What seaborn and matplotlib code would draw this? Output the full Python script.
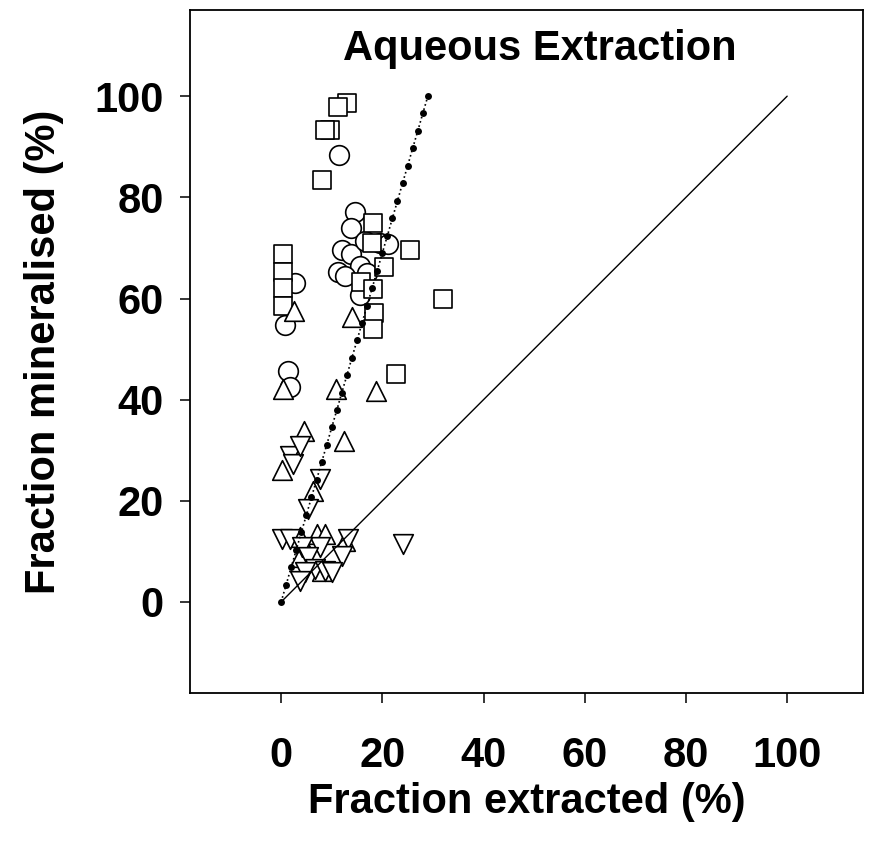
import matplotlib
matplotlib.use("Agg")
import matplotlib.pyplot as plt
import seaborn as sns
import pandas as pd

# Measured points, one group per symbol
sq_x = [13.1, 11.2, 9.7, 8.7, 8.1, 0.4, 0.4, 0.4, 0.4, 18.2, 18.0, 20.4, 25.5, 15.8, 18.2, 18.4, 18.2, 32.0, 22.8]
sq_y = [98.6, 97.8, 93.3, 93.3, 83.4, 68.7, 65.3, 62.0, 58.6, 75.0, 70.9, 66.3, 69.5, 63.2, 61.8, 57.2, 54.0, 60.0, 45.0]

ci_x = [11.5, 14.7, 13.9, 12.1, 13.9, 16.6, 19.6, 21.2, 15.6, 17.0, 11.3, 12.7, 15.6, 2.8, 0.8, 1.4, 1.8]
ci_y = [88.3, 77.2, 73.9, 69.5, 68.7, 71.3, 70.9, 70.7, 66.5, 65.1, 65.3, 64.4, 60.6, 63.0, 54.7, 45.7, 42.6]

tu_x = [0.4, 10.9, 18.8, 4.6, 12.5, 2.6, 14.1, 0.2, 6.3, 3.8, 7.1, 8.7, 12.7, 3.8, 8.1]
tu_y = [42.2, 42.2, 41.8, 33.9, 31.9, 57.6, 56.4, 26.0, 22.0, 12.9, 13.5, 13.5, 12.1, 8.9, 6.1]

td_x = [1.8, 2.4, 3.8, 7.7, 5.3, 0.2, 1.8, 13.3, 7.7, 4.2, 5.3, 12.1, 6.7, 4.8, 3.8, 8.7, 10.1, 24.0]
td_y = [28.9, 27.3, 30.9, 24.4, 18.4, 12.5, 12.5, 12.5, 10.9, 10.9, 8.9, 9.1, 6.5, 5.9, 4.2, 6.1, 5.9, 11.5]

# Fitted relation (dotted, with dots) and the 1:1 line
fit_x = [0, 1, 2, 3, 4, 5, 6, 7, 8, 9, 10, 11, 12, 13, 14, 15, 16, 17, 18, 19,
         20, 21, 22, 23, 24, 25, 26, 27, 28, 29]
fit_y = [0.0, 3.4, 6.9, 10.3, 13.8, 17.2, 20.7, 24.1, 27.6, 31.0, 34.5, 37.9, 41.4, 44.8,
         48.3, 51.7, 55.2, 58.6, 62.1, 65.5, 69.0, 72.4, 75.9, 79.3, 82.8, 86.2, 89.7,
         93.1, 96.6, 100.0]
one_x = [0, 100]
one_y = [0, 100]

ticks = [0, 20, 40, 60, 80, 100]

sns.set_style("ticks")
plt.rcParams['font.family'] = ['Liberation Sans', 'DejaVu Sans']
plt.rcParams['font.weight'] = 'bold'
plt.rcParams.update({
    "text.color": "black",
    "axes.labelcolor": "black",
    "axes.edgecolor": "black",
    "xtick.color": "black",
    "ytick.color": "black",
})

fig = plt.figure(figsize=(8.78, 8.49), dpi=100)
ax = fig.add_axes([0.2164, 0.1837, 0.983 - 0.2164, 0.988 - 0.1837])

groups = [
    (ci_x, ci_y, "o", 200),
    (sq_x, sq_y, "s", 155),
    (tu_x, tu_y, "^", 200),
    (td_x, td_y, "v", 200),
]
for gx, gy, mk, sz in groups:
    df = pd.DataFrame({"x": gx, "y": gy})
    sns.scatterplot(data=df, x="x", y="y", marker=mk, s=sz, color="white",
                    edgecolor="black", linewidth=1.2, ax=ax, zorder=3)

sns.lineplot(x=one_x, y=one_y, color="black", linewidth=1.0, ax=ax, zorder=4)
sns.lineplot(x=fit_x, y=fit_y, color="black", linewidth=1.2, linestyle=":",
             marker="o", markersize=5, markeredgewidth=0, ax=ax, zorder=5)

ax.set_xlim(-18, 115)
ax.set_ylim(-18, 117)
ax.set_xticks(ticks)
ax.set_yticks(ticks)
ax.set_xticklabels([str(t) for t in ticks], fontsize=30, fontweight="bold")
ax.set_yticklabels([str(t) for t in ticks], fontsize=30, fontweight="bold")
ax.tick_params(axis="x", direction="out", length=7, width=1.1, pad=24)
ax.tick_params(axis="y", direction="out", length=7, width=1.1, pad=12)
for sp in ax.spines.values():
    sp.set_visible(True)
    sp.set_linewidth(1.3)
    sp.set_color("black")

ax.set_xlabel("Fraction extracted (%)", fontsize=30, fontweight="bold", labelpad=4)
ax.set_ylabel("Fraction mineralised (%)", fontsize=30, fontweight="bold", labelpad=22)
ax.text(0.52, 0.943, "Aqueous Extraction", transform=ax.transAxes, ha="center",
        va="center", fontsize=30, fontweight="bold")

fig.savefig("out.png", dpi=100)
